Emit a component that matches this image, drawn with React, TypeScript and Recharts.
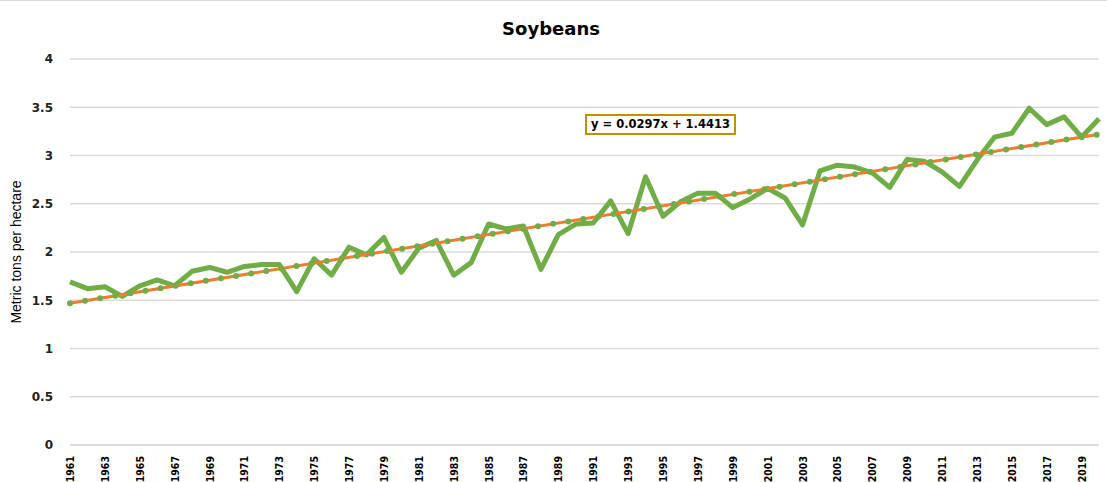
import { LineChart, Line, XAxis, YAxis, CartesianGrid } from "recharts";

const years = [
  1961, 1962, 1963, 1964, 1965, 1966, 1967, 1968, 1969, 1970,
  1971, 1972, 1973, 1974, 1975, 1976, 1977, 1978, 1979, 1980,
  1981, 1982, 1983, 1984, 1985, 1986, 1987, 1988, 1989, 1990,
  1991, 1992, 1993, 1994, 1995, 1996, 1997, 1998, 1999, 2000,
  2001, 2002, 2003, 2004, 2005, 2006, 2007, 2008, 2009, 2010,
  2011, 2012, 2013, 2014, 2015, 2016, 2017, 2018, 2019, 2020,
];

const yieldValues = [
  1.69, 1.62, 1.64, 1.54, 1.65, 1.71, 1.65, 1.8, 1.84, 1.79,
  1.85, 1.87, 1.87, 1.59, 1.93, 1.76, 2.05, 1.97, 2.15, 1.79,
  2.04, 2.12, 1.76, 1.89, 2.29, 2.24, 2.27, 1.82, 2.18, 2.29,
  2.3, 2.53, 2.19, 2.78, 2.37, 2.52, 2.61, 2.61, 2.46, 2.55,
  2.66, 2.56, 2.28, 2.84, 2.9, 2.88, 2.82, 2.67, 2.96, 2.94,
  2.83, 2.68, 2.95, 3.19, 3.23, 3.49, 3.32, 3.4, 3.19, 3.38,
];

// linear trend endpoints (1961, 2020)
const trendEnds = [1.47, 3.22];

const yTicks = [0, 0.5, 1, 1.5, 2, 2.5, 3, 3.5, 4];

const data = years.map((year, i) => ({
  year: String(year),
  value: yieldValues[i],
  trend: i === 0 ? trendEnds[0] : i === years.length - 1 ? trendEnds[1] : null,
}));

const GREEN = "#70AD47";
const ORANGE = "#ED7D31";

function YearTick({ x, y, payload }: any) {
  return (
    <text
      x={x}
      y={y + 3}
      transform={`rotate(-90, ${x}, ${y + 3})`}
      textAnchor="end"
      dominantBaseline="central"
      fontFamily="DejaVu Sans Condensed, DejaVu Sans"
      fontWeight="bold"
      fontSize={10.5}
      fill="#000"
    >
      {payload.value}
    </text>
  );
}

export default function App() {
  return (
    <div style={{ position: "relative", width: 1107, height: 482, background: "#fff" }}>
      <style>{"body{margin:0}"}</style>
      <div
        style={{
          position: "absolute",
          left: 0,
          top: 0,
          width: 1107,
          height: 482,
          borderTop: "1px solid #d9d9d9",
          boxSizing: "border-box",
        }}
      />
      <div
        style={{
          position: "absolute",
          top: 18,
          left: 0,
          width: 1102,
          textAlign: "center",
          fontFamily: "DejaVu Sans",
          fontWeight: "bold",
          fontSize: 18,
          color: "#000",
        }}
      >
        Soybeans
      </div>
      <LineChart
        width={1107}
        height={482}
        data={data}
        margin={{ top: 59, right: 8, bottom: 0, left: 0 }}
      >
        <CartesianGrid vertical={false} stroke="#d9d9d9" strokeWidth={1.5} />
        <XAxis
          dataKey="year"
          interval={1}
          tick={<YearTick />}
          tickLine={false}
          axisLine={{ stroke: "#d9d9d9", strokeWidth: 1.5 }}
          height={37}
        />
        <YAxis
          domain={[0, 4]}
          ticks={yTicks}
          width={70}
          tickLine={false}
          axisLine={false}
          tickSize={0}
          tickMargin={17}
          tick={{ fontFamily: "DejaVu Sans", fontWeight: "bold", fontSize: 12, fill: "#222" }}
          label={{
            value: "Metric tons per hectare",
            angle: -90,
            position: "insideLeft",
            offset: 16,
            style: { fontFamily: "Liberation Sans", fontSize: 14, fill: "#000", textAnchor: "middle" },
          }}
        />
        <Line
          dataKey="value"
          stroke={GREEN}
          strokeWidth={5}
          dot={false}
          strokeLinejoin="round"
          isAnimationActive={false}
        />
        <Line
          dataKey="trend"
          stroke={ORANGE}
          strokeWidth={3}
          dot={false}
          connectNulls
          isAnimationActive={false}
        />
        <Line
          dataKey="trend"
          stroke={GREEN}
          strokeWidth={6}
          strokeDasharray="0 15.3"
          strokeLinecap="round"
          dot={false}
          connectNulls
          isAnimationActive={false}
        />
      </LineChart>
      <div
        style={{
          position: "absolute",
          left: 585,
          top: 114,
          width: 151,
          height: 21,
          border: "2px solid #BF9000",
          boxSizing: "border-box",
          fontFamily: "DejaVu Sans",
          fontWeight: "bold",
          fontSize: 11.5,
          lineHeight: "17px",
          textAlign: "center",
          whiteSpace: "nowrap",
          color: "#000",
          background: "#fff",
        }}
      >
        y = 0.0297x + 1.4413
      </div>
    </div>
  );
}
